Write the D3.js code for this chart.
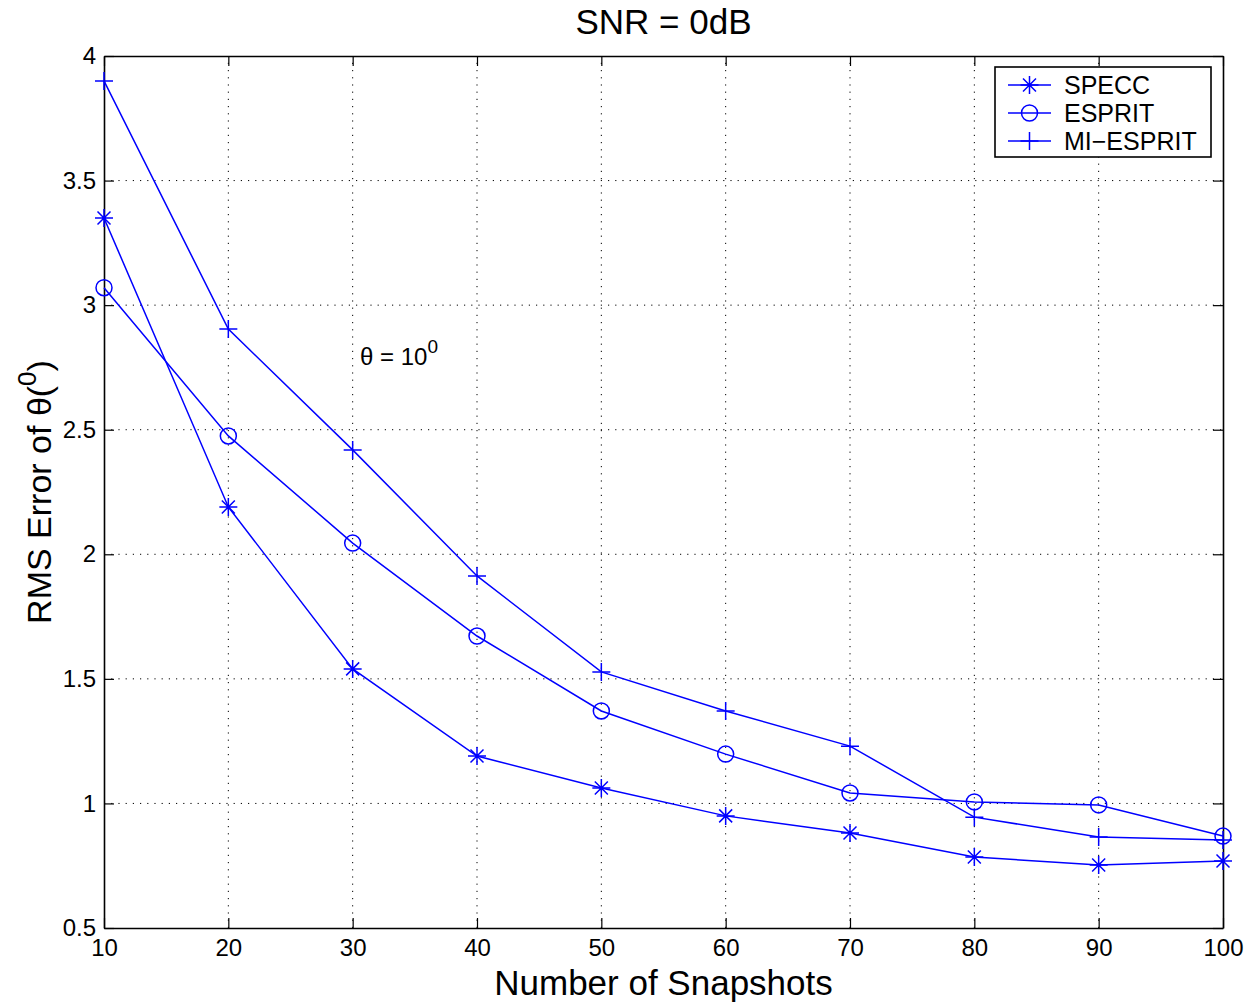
<!DOCTYPE html>
<html lang="en">
<head>
<meta charset="UTF-8">
<title>SNR = 0dB</title>
<script src="https://d3js.org/d3.v7.min.js"></script>
<style>
  body { margin: 0; background: #fff; }
  text { font-family: "Liberation Sans", Arial, sans-serif; fill: #000; }
  .grid line { stroke: #000; stroke-dasharray: 1.2 6; stroke-width: 1; }
</style>
</head>
<body>
<svg id="chart" width="1255" height="1005"></svg>
<script>
const snapshots = [10, 20, 30, 40, 50, 60, 70, 80, 90, 100];
const specc    = [3.35, 2.19, 1.54, 1.19, 1.062, 0.95, 0.881, 0.785, 0.753, 0.769];
const esprit   = [3.07, 2.475, 2.045, 1.672, 1.371, 1.198, 1.042, 1.006, 0.994, 0.869];
const miEsprit = [3.90, 2.904, 2.419, 1.913, 1.528, 1.371, 1.23, 0.945, 0.865, 0.853];
const xTicks = [10, 20, 30, 40, 50, 60, 70, 80, 90, 100];
const yTicks = [0.5, 1, 1.5, 2, 2.5, 3, 3.5, 4];

const margin = {left: 104, right: 32, top: 56, bottom: 77};
const width = 1255, height = 1005;
const svg = d3.select("#chart");

const x = d3.scaleLinear().domain([10, 100]).range([margin.left, width - margin.right]);
const y = d3.scaleLinear().domain([0.5, 4]).range([height - margin.bottom, margin.top]);

// grid
const grid = svg.append("g").attr("class", "grid");
grid.selectAll(".gx").data(xTicks.slice(1, -1)).enter().append("line")
  .attr("x1", d => x(d)).attr("x2", d => x(d))
  .attr("y1", y(0.5)).attr("y2", y(4));
grid.selectAll(".gy").data(yTicks.slice(1, -1)).enter().append("line")
  .attr("y1", d => y(d)).attr("y2", d => y(d))
  .attr("x1", x(10)).attr("x2", x(100));

// axes with inward ticks on all four sides
const tl = 10;
svg.append("g").attr("transform", `translate(0,${y(0.5)})`)
  .call(d3.axisBottom(x).tickValues(xTicks).tickSizeInner(-tl).tickSizeOuter(0).tickPadding(11))
  .call(g => g.selectAll("text").attr("font-size", 24).attr("dy", "0.71em"));
svg.append("g").attr("transform", `translate(0,${y(4)})`)
  .call(d3.axisTop(x).tickValues(xTicks).tickSizeInner(-tl).tickSizeOuter(0).tickFormat(""));
svg.append("g").attr("transform", `translate(${x(10)},0)`)
  .call(d3.axisLeft(y).tickValues(yTicks).tickSizeInner(-tl).tickSizeOuter(0).tickPadding(8).tickFormat(d3.format("")))
  .call(g => g.selectAll("text").attr("font-size", 24));
svg.append("g").attr("transform", `translate(${x(100)},0)`)
  .call(d3.axisRight(y).tickValues(yTicks).tickSizeInner(-tl).tickSizeOuter(0).tickFormat(""));
svg.selectAll(".domain").attr("stroke", "#000").attr("stroke-width", 1.6);
svg.selectAll(".tick line").attr("stroke", "#000").attr("stroke-width", 1.2);

// series
const blue = "#0000ff";
const line = d3.line().x((d, i) => x(snapshots[i])).y(d => y(d));
const series = [
  {name: "SPECC", values: specc, marker: "star"},
  {name: "ESPRIT", values: esprit, marker: "circle"},
  {name: "MI\u2212ESPRIT", values: miEsprit, marker: "plus"}
];

function drawMarker(g, type, cx, cy) {
  const s = 9;
  if (type === "circle") {
    g.append("circle").attr("cx", cx).attr("cy", cy).attr("r", 8)
      .attr("fill", "none").attr("stroke", blue).attr("stroke-width", 1.5);
  } else if (type === "plus") {
    g.append("path").attr("d", `M${cx - s},${cy}H${cx + s}M${cx},${cy - s}V${cy + s}`)
      .attr("stroke", blue).attr("stroke-width", 1.5);
  } else {
    const d = 6.5;
    g.append("path").attr("d",
      `M${cx - s},${cy}H${cx + s}M${cx},${cy - s}V${cy + s}` +
      `M${cx - d},${cy - d}L${cx + d},${cy + d}M${cx - d},${cy + d}L${cx + d},${cy - d}`)
      .attr("stroke", blue).attr("stroke-width", 1.5);
  }
}

series.forEach(s => {
  const g = svg.append("g");
  g.append("path").datum(s.values).attr("d", line)
    .attr("fill", "none").attr("stroke", blue).attr("stroke-width", 1.5);
  s.values.forEach((v, i) => drawMarker(g, s.marker, x(snapshots[i]), y(v)));
});

// legend
const lg = svg.append("g").attr("transform", "translate(995,67)");
lg.append("rect").attr("width", 216).attr("height", 90)
  .attr("fill", "#fff").attr("stroke", "#000").attr("stroke-width", 1.6);
series.forEach((s, i) => {
  const cy = 18 + i * 28;
  lg.append("line").attr("x1", 13).attr("x2", 56).attr("y1", cy).attr("y2", cy)
    .attr("stroke", blue).attr("stroke-width", 1.5);
  drawMarker(lg, s.marker, 34.5, cy);
  lg.append("text").attr("x", 69).attr("y", cy).attr("dy", "0.36em")
    .attr("font-size", 25).text(s.name);
});

// annotation
const ann = svg.append("text").attr("x", 360).attr("y", 365).attr("font-size", 24);
ann.append("tspan").text("\u03b8 = 10");
ann.append("tspan").attr("dy", -12).attr("font-size", 19).text("0");

// title and labels
svg.append("text").attr("x", (x(10) + x(100)) / 2).attr("y", 34)
  .attr("text-anchor", "middle").attr("font-size", 35).text("SNR = 0dB");
svg.append("text").attr("x", (x(10) + x(100)) / 2).attr("y", 995)
  .attr("text-anchor", "middle").attr("font-size", 35).text("Number of Snapshots");
const yl = svg.append("text")
  .attr("transform", `translate(51,${(y(0.5) + y(4)) / 2}) rotate(-90)`)
  .attr("text-anchor", "middle").attr("font-size", 34);
yl.append("tspan").text("RMS Error of \u03b8(");
yl.append("tspan").attr("dy", -15).attr("font-size", 26).text("0");
yl.append("tspan").attr("dy", 15).text(")");
</script>
</body>
</html>
